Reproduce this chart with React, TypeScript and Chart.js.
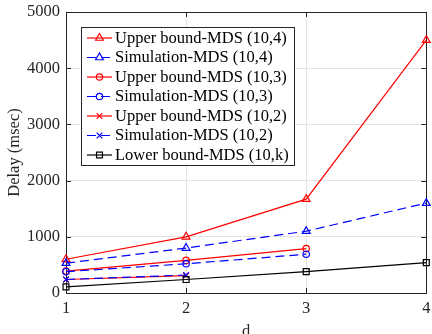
import React, { useEffect, useRef } from 'react';
import { Chart, registerables } from 'chart.js';
import { drawPoint } from 'chart.js/helpers';

Chart.register(...registerables);

const dValues = [1, 2, 3, 4];
const xTicks = [1, 2, 3, 4];
const yTicks = [0, 1000, 2000, 3000, 4000, 5000];

const upper104 = [600, 1000, 1670, 4500];
const sim104 = [530, 800, 1100, 1600];
const upper103 = [390, 580, 790];
const sim103 = [380, 520, 690];
const upper102 = [240, 310];
const sim102 = [240, 320];
const lower10k = [110, 240, 380, 540];

const seriesLabels = [
  'Upper bound-MDS (10,4)',
  'Simulation-MDS (10,4)',
  'Upper bound-MDS (10,3)',
  'Simulation-MDS (10,3)',
  'Upper bound-MDS (10,2)',
  'Simulation-MDS (10,2)',
  'Lower bound-MDS (10,k)',
];
const seriesValues = [upper104, sim104, upper103, sim103, upper102, sim102, lower10k];
const seriesColors = ['#ff0000', '#0000ff', '#ff0000', '#0000ff', '#ff0000', '#0000ff', '#000000'];
const seriesDash = [[], [9, 5], [], [9, 5], [], [9, 5], []];
const seriesMarkers = ['triangle', 'triangle', 'circle', 'circle', 'crossRot', 'crossRot', 'rect'];
const markerRadius: Record<string, number> = { triangle: 4.5, circle: 3.2, crossRot: 4, rect: 4.2 };

const FONT = '"Liberation Serif", "Times New Roman", serif';
const FONT_SIZE = 16.5;
const AXIS_COLOR = '#262626';

const boxPlugin = {
  id: 'matlabBox',
  beforeDatasetsDraw(chart: any) {
    const { ctx, chartArea } = chart;
    const { left, right, top, bottom } = chartArea;
    const xs = chart.scales.x;
    const ys = chart.scales.y;
    ctx.save();
    ctx.strokeStyle = AXIS_COLOR;
    ctx.lineWidth = 1;
    const tl = 5;
    ctx.beginPath();
    xTicks.forEach((v) => {
      const px = Math.round(xs.getPixelForValue(v)) + 0.5;
      ctx.moveTo(px, bottom);
      ctx.lineTo(px, bottom - tl);
      ctx.moveTo(px, top);
      ctx.lineTo(px, top + tl);
    });
    yTicks.forEach((v) => {
      const py = Math.round(ys.getPixelForValue(v)) + 0.5;
      ctx.moveTo(left, py);
      ctx.lineTo(left + tl, py);
      ctx.moveTo(right, py);
      ctx.lineTo(right - tl, py);
    });
    ctx.stroke();
    ctx.strokeRect(Math.round(left) + 0.5, Math.round(top) + 0.5, Math.round(right - left), Math.round(bottom - top));
    ctx.restore();
  },
};

const legendPlugin = {
  id: 'matlabLegend',
  afterDraw(chart: any) {
    const { ctx } = chart;
    const bx = 81.5, by = 27.5, bw = 213, bh = 138;
    const rowTop = 38, rowGap = 19.5;
    ctx.save();
    ctx.fillStyle = '#ffffff';
    ctx.fillRect(bx, by, bw, bh);
    ctx.strokeStyle = AXIS_COLOR;
    ctx.lineWidth = 1;
    ctx.strokeRect(bx, by, bw, bh);
    seriesLabels.forEach((label, i) => {
      const y = rowTop + i * rowGap;
      ctx.strokeStyle = seriesColors[i];
      ctx.lineWidth = 1.2;
      ctx.setLineDash(seriesDash[i]);
      ctx.beginPath();
      ctx.moveTo(87, y);
      ctx.lineTo(112, y);
      ctx.stroke();
      ctx.setLineDash([]);
      ctx.fillStyle = 'rgba(0,0,0,0)';
      drawPoint(ctx, { pointStyle: seriesMarkers[i], radius: markerRadius[seriesMarkers[i]], borderWidth: 1.2, rotation: 0 } as any, 99.5, y);
      ctx.fillStyle = '#000000';
      ctx.font = `${FONT_SIZE}px ${FONT}`;
      ctx.textBaseline = 'middle';
      ctx.textAlign = 'left';
      ctx.fillText(label, 115, y + 0.5);
    });
    ctx.restore();
  },
};

export default function App() {
  const canvasRef = useRef<HTMLCanvasElement | null>(null);

  useEffect(() => {
    if (!canvasRef.current) return;
    const datasets = seriesLabels.map((label, i) => ({
      label,
      data: seriesValues[i].map((v, j) => ({ x: dValues[j], y: v })),
      borderColor: seriesColors[i],
      backgroundColor: 'rgba(0,0,0,0)',
      borderWidth: 1.2,
      borderDash: seriesDash[i],
      pointStyle: seriesMarkers[i],
      pointRadius: markerRadius[seriesMarkers[i]],
      pointBorderColor: seriesColors[i],
      pointBackgroundColor: 'rgba(0,0,0,0)',
      pointBorderWidth: 1.2,
      tension: 0,
      clip: false as any,
      order: seriesLabels.length - i,
    }));

    const chart = new Chart(canvasRef.current, {
      type: 'line',
      data: { datasets },
      options: {
        animation: false,
        responsive: true,
        maintainAspectRatio: false,
        layout: { padding: { top: 12, right: 5, bottom: 0, left: 0 } },
        plugins: { legend: { display: false }, tooltip: { enabled: false } },
        scales: {
          x: {
            type: 'linear',
            min: 1,
            max: 4,
            afterBuildTicks: (scale: any) => {
              scale.ticks = xTicks.map((v) => ({ value: v }));
            },
            afterFit: (scale: any) => {
              scale.height = 41;
              scale.paddingLeft = 0;
              scale.paddingRight = 0;
            },
            ticks: {
              color: AXIS_COLOR,
              font: { family: FONT, size: FONT_SIZE },
              padding: 6,
              maxRotation: 0,
              callback: (v: any) => String(v),
            },
            grid: { color: '#e3e3e3', drawTicks: false, lineWidth: 1 },
            border: { display: false },
            title: {
              display: true,
              text: 'd',
              color: AXIS_COLOR,
              font: { family: FONT, size: FONT_SIZE },
              padding: { top: 0, bottom: -7.6 },
            },
          },
          y: {
            type: 'linear',
            min: 0,
            max: 5000,
            afterBuildTicks: (scale: any) => {
              scale.ticks = yTicks.map((v) => ({ value: v }));
            },
            afterFit: (scale: any) => {
              scale.width = 66;
              scale.paddingTop = 0;
              scale.paddingBottom = 0;
            },
            ticks: {
              color: AXIS_COLOR,
              font: { family: FONT, size: FONT_SIZE },
              padding: 6,
              callback: (v: any) => String(v),
            },
            grid: { color: '#e3e3e3', drawTicks: false, lineWidth: 1 },
            border: { display: false },
            title: {
              display: true,
              text: 'Delay (msec)',
              color: AXIS_COLOR,
              font: { family: FONT, size: FONT_SIZE },
              padding: { top: 5, bottom: 0 },
            },
          },
        },
      },
      plugins: [boxPlugin, legendPlugin],
    });
    return () => chart.destroy();
  }, []);

  return (
    <div style={{ position: 'fixed', left: 0, top: 0, width: 432, height: 334, background: '#ffffff' }}>
      <canvas ref={canvasRef} />
    </div>
  );
}
